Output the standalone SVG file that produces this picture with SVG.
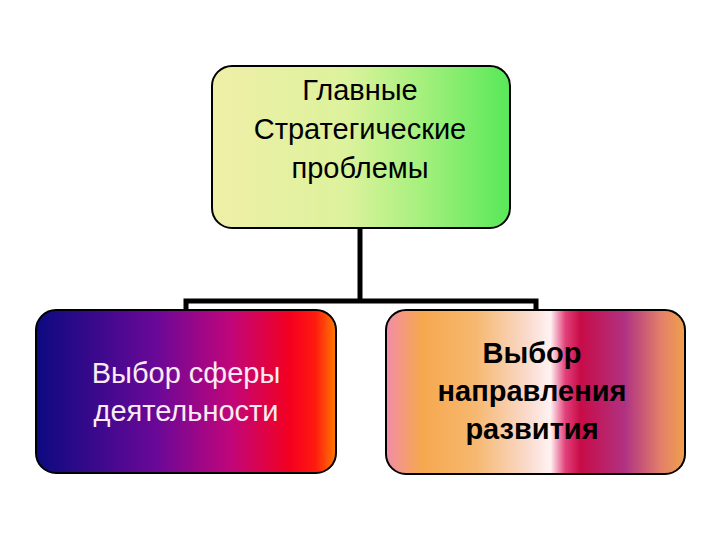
<svg xmlns="http://www.w3.org/2000/svg" width="720" height="540" viewBox="0 0 720 540">
<style>
.box{stroke:#000;stroke-width:2}
.t{font-family:"Liberation Sans","DejaVu Sans",sans-serif;font-size:29px;text-anchor:middle}
.conn{stroke:#000;stroke-width:5;fill:none;stroke-linecap:butt}
</style>
<defs>
<linearGradient id="gTop" x1="0" y1="0" x2="1" y2="0">
<stop offset="0" stop-color="#EFEFA8"/>
<stop offset="0.45" stop-color="#DDF29C"/>
<stop offset="0.7" stop-color="#A6F07E"/>
<stop offset="1" stop-color="#58E858"/>
</linearGradient>
<linearGradient id="gLeft" x1="0" y1="0" x2="1" y2="0">
<stop offset="0" stop-color="#0C0A80"/>
<stop offset="0.4" stop-color="#6A0898"/>
<stop offset="0.65" stop-color="#C0067A"/>
<stop offset="0.85" stop-color="#F4001E"/>
<stop offset="0.93" stop-color="#FF1A10"/>
<stop offset="1" stop-color="#FF7A00"/>
</linearGradient>
<linearGradient id="gRight" x1="0" y1="0" x2="1" y2="0">
<stop offset="0" stop-color="#F28CA8"/>
<stop offset="0.12" stop-color="#F6A84E"/>
<stop offset="0.3" stop-color="#F6B870"/>
<stop offset="0.48" stop-color="#FADCD0"/>
<stop offset="0.55" stop-color="#FFF2F2"/>
<stop offset="0.6" stop-color="#E2407A"/>
<stop offset="0.65" stop-color="#C80C48"/>
<stop offset="0.8" stop-color="#B03282"/>
<stop offset="0.92" stop-color="#E2806A"/>
<stop offset="1" stop-color="#F2A04C"/>
</linearGradient>
</defs>
<g id="connectors">
<line class="conn" x1="360" y1="228" x2="360" y2="301"/>
<polyline class="conn" points="186,311 186,301 536,301 536,311"/>
</g>
<g id="node-top">
<rect class="box" x="212" y="66" width="298" height="162" rx="20" ry="20" fill="url(#gTop)"/>
<text class="t" x="360" y="100">Главные</text>
<text class="t" x="360" y="139">Стратегические</text>
<text class="t" x="360" y="178">проблемы</text>
</g>
<g id="node-left">
<rect class="box" x="36" y="310" width="300" height="163" rx="20" ry="20" fill="url(#gLeft)"/>
<text class="t" x="186" y="383" fill="#FAEAF4">Выбор сферы</text>
<text class="t" x="186" y="421" fill="#FAEAF4">деятельности</text>
</g>
<g id="node-right">
<rect class="box" x="386" y="310" width="299" height="164" rx="20" ry="20" fill="url(#gRight)"/>
<text class="t" x="532" y="363" font-weight="bold">Выбор</text>
<text class="t" x="532" y="401" font-weight="bold">направления</text>
<text class="t" x="532" y="439" font-weight="bold">развития</text>
</g>
</svg>
